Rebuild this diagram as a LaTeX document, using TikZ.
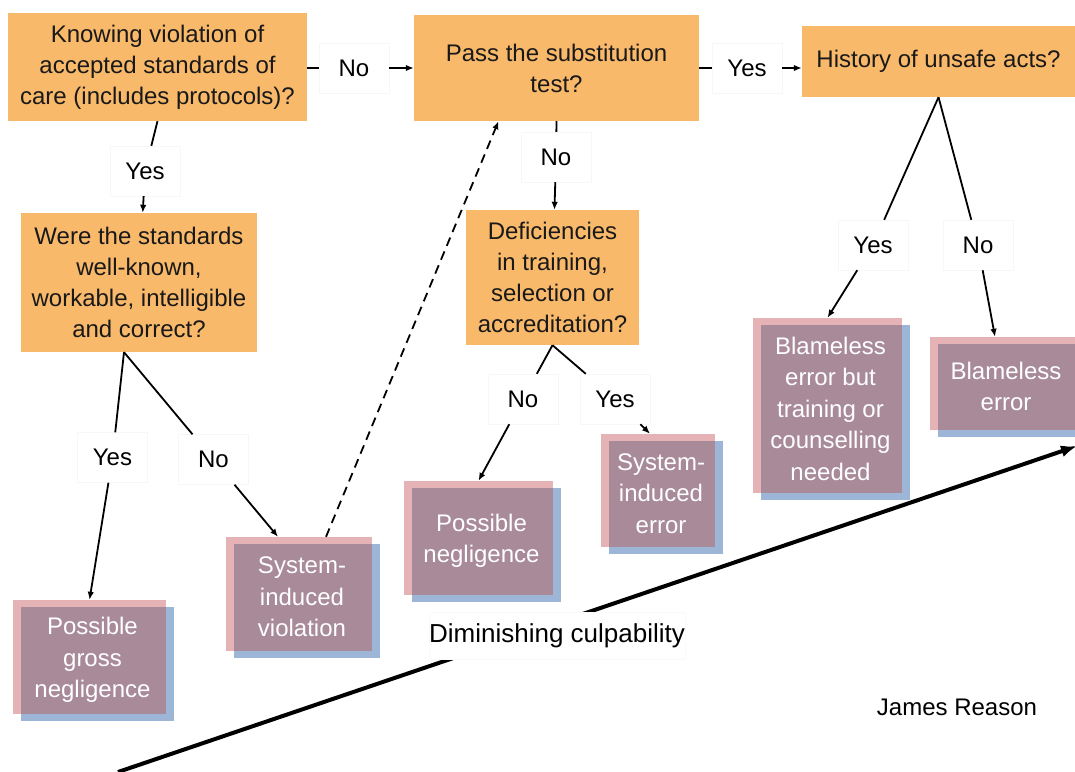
\documentclass[tikz,border=0pt]{standalone}
\usepackage{fontspec}
\setmainfont{Liberation Sans}
\usetikzlibrary{arrows.meta,calc}
\definecolor{qorange}{HTML}{F9B96B}
\definecolor{opink}{HTML}{E5B3B6}
\definecolor{oblue}{HTML}{9DB5D7}
\definecolor{omauve}{HTML}{A88A99}
\newcommand{\outcome}[5]{% outcome box #1 centred at (#2), size #3 x #4
  % the pink back plate is the named node, the blue one sits down-right
  \node[minimum width=#3, minimum height=#4, fill=opink, inner sep=0] (#1) at (#2) {};
  \fill[oblue] ($(#1.north west)+(8,7)$) rectangle ($(#1.south east)+(8,7)$);
  \fill[omauve] ($(#1.north west)+(8,7)$) rectangle (#1.south east);
  \node[outtext] at ($(#1)+(3,3)$) {#5};
}

\begin{document}
\begin{tikzpicture}[x=1pt,y=-1pt,
  question/.style={fill=qorange, text=black!90, align=center, inner sep=0,
    font=\fontsize{24pt}{31pt}\selectfont},
  answer/.style={fill=white, draw=black!3, minimum width=70pt, minimum height=50pt,
    font=\fontsize{24pt}{29pt}\selectfont},
  outtext/.style={text=white, align=center, font=\fontsize{24pt}{31.5pt}\selectfont},
  link/.style={line width=1.8pt},
  arr/.style={line width=1.8pt, -{Latex[length=8pt,width=6.5pt]}}]
  \useasboundingbox (0,0) rectangle (1075,771);
  \node[question, minimum width=299pt, minimum height=108pt] (know) at (157.5,67)
    {Knowing violation of\\accepted standards of\\care (includes protocols)?};
  \node[question, minimum width=285pt, minimum height=106pt] (subst) at (556.5,68)
    {Pass the substitution\\test?};
  \node[question, minimum width=273pt, minimum height=71pt] (hist) at (938.5,61.5)
    {History of unsafe acts?};
  \node[question, minimum width=236pt, minimum height=139pt] (stand) at (139,282.5)
    {Were the standards\\well-known,\\workable, intelligible\\and correct?};
  \node[question, minimum width=173pt, minimum height=135pt] (defic) at (552.5,277.5)
    {Deficiencies\\in training,\\selection or\\accreditation?};

  \node[answer] (noA) at (354,68) {No};
  \node[answer] (yesA) at (145,171) {Yes};
  \node[answer] (yesC) at (747,68) {Yes};
  \node[answer] (noC) at (556,157) {No};
  \node[answer] (yesD) at (873,245) {Yes};
  \node[answer] (noD) at (978,245) {No};
  \node[answer] (yesB) at (112.5,457.5) {Yes};
  \node[answer] (noB) at (213.5,459.5) {No};
  \node[answer] (noE) at (523,399) {No};
  \node[answer] (yesE) at (615,399) {Yes};

  \outcome{gross}{89.5,657}{153pt}{114pt}{Possible\\gross\\negligence}
  \outcome{sysv}{299,594}{146pt}{114pt}{System-\\induced\\violation}
  \outcome{negl}{478.5,538}{149pt}{114pt}{Possible\\negligence}
  \outcome{syse}{658,490.5}{114pt}{113pt}{System-\\induced\\error}
  \outcome{blameb}{827.5,405.5}{149pt}{175pt}{Blameless\\error but\\training or\\counselling\\needed}
  \outcome{blame}{1003,383.5}{146pt}{93pt}{Blameless\\error}

  \draw[link] (know.east |- noA) -- (noA);
  \draw[arr] (noA) -- (noA -| subst.west);
  \draw[link] (subst.east |- yesC) -- (yesC);
  \draw[arr] (yesC) -- (yesC -| hist.west);
  \draw[link] (know.south) -- (yesA);
  \draw[arr] (yesA) -- (stand);
  \draw[link] (subst.south) -- (noC);
  \draw[arr] (noC) -- (defic);
  \draw[link] (hist.south) -- (yesD);
  \draw[link] (hist.south) -- (noD);
  \draw[arr] (yesD) -- (blameb.north);
  \draw[arr] (noD) -- ($(blame.north)+(-8,0)$);
  \coordinate (sfork) at ($(stand.south)+(-15,0)$);
  \draw[link] (sfork) -- (yesB);
  \draw[link] (sfork) -- (noB);
  \draw[arr] (yesB) -- (gross.north);
  \draw[arr] (noB) -- ($(sysv.north)+(-21,0)$);
  \draw[link] (defic.south) -- (noE);
  \draw[link] (defic.south) -- (yesE);
  \draw[arr] (noE) -- (negl.north);
  \draw[arr] (yesE) -- ($(syse.north)+(-8,0)$);
  \draw[arr, dash pattern=on 9pt off 6pt] ($(sysv.north)+(27,0)$) -- ($(subst.south)+(-58,0)$);

  \coordinate (lowend) at (118,772);
  \coordinate (highend) at (1077,446);
  \draw[line width=4pt, -{Latex[length=16pt,width=12pt]}] (lowend) -- (highend);
  \node[fill=white, draw=black!2, inner xsep=0pt, minimum height=47pt,
    font=\fontsize{26pt}{30pt}\selectfont] (culp) at (557,635.5) {Diminishing culpability};
  \node[font=\fontsize{24pt}{28pt}\selectfont] (author) at (957,707) {James Reason};
\end{tikzpicture}
\end{document}
